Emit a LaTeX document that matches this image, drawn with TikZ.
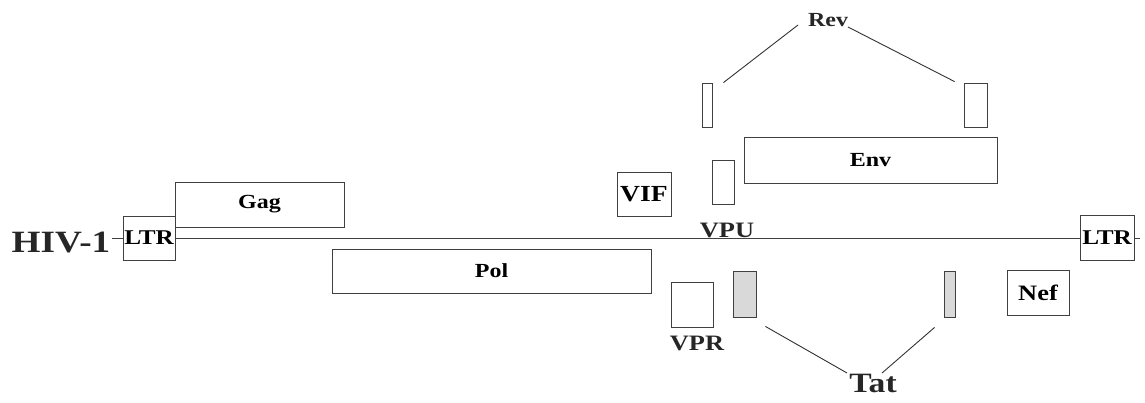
\documentclass[tikz,border=0pt]{standalone}
\usepackage{fontspec}
\setmainfont{Liberation Serif}[FakeStretch=1.2]
\usepackage{tikz}
\usetikzlibrary{calc}
\newcommand{\lblsize}[1]{\fontsize{#1}{#1}\selectfont\bfseries}

\begin{document}
\begin{tikzpicture}[x=1pt,y=-1pt,
    gene/.style={draw=black!75,line width=0.8pt,fill=white,inner sep=0pt,font=\lblsize{20}},
    exon/.style={gene,fill=black!15},
    genelbl/.style={inner sep=0pt,text=black!85,font=\lblsize{22}}]
  \useasboundingbox (0,0) rectangle (1145,402);

  % backbone
  \coordinate (lineW) at (112,238);
  \coordinate (lineE) at (1140,238);
  \draw[black!75,line width=0.8pt] (lineW) -- (lineE);
  \node[genelbl,font=\lblsize{31}] (hiv) at (61,242) {HIV-1};

  % genes above and on the line
  \node[gene,minimum width=52pt,minimum height=44pt,font=\lblsize{21}] (ltrL) at (149,238) {LTR};
  \node[gene,minimum width=54pt,minimum height=45pt,font=\lblsize{21}] (ltrR) at (1107,237.5) {LTR};
  \node[gene,minimum width=169pt,minimum height=45pt] (gag) at (259.5,204.5) {Gag};
  \node[gene,minimum width=54pt,minimum height=44pt,font=\lblsize{23}] (vif) at (644,194) {VIF};
  \node[gene,minimum width=22pt,minimum height=44pt] (vpu) at (723,182) {};
  \node[genelbl] (vpulbl) at (727,230) {VPU};
  \node[gene,minimum width=253pt,minimum height=46pt] (env) at (870.5,160) {Env};

  % rev exons
  \node[gene,minimum width=10pt,minimum height=44pt] (revL) at (707,105) {};
  \node[gene,minimum width=23pt,minimum height=44pt] (revR) at (975.5,105) {};
  \node[genelbl,font=\lblsize{20}] (rev) at (828,20) {Rev};
  \draw[black!80,line width=0.9pt] ($(rev)+(-30,5)$) -- ($(revL.north east)+(11,0)$);
  \draw[black!80,line width=0.9pt] ($(rev)+(20,7)$) -- ($(revR.north west)+(-9,-1)$);

  % genes below the line
  \node[gene,minimum width=319pt,minimum height=44pt] (pol) at (491.5,271) {Pol};
  \node[gene,minimum width=42pt,minimum height=45pt] (vpr) at (692,304.5) {};
  \node[genelbl] (vprlbl) at (697,343) {VPR};
  \node[gene,minimum width=62pt,minimum height=45pt,font=\lblsize{22}] (nef) at (1038,292.5) {Nef};

  % tat exons
  \node[exon,minimum width=23pt,minimum height=46pt] (tatL) at (744.5,294) {};
  \node[exon,minimum width=11pt,minimum height=46pt] (tatR) at (949.5,294) {};
  \node[genelbl,font=\lblsize{28}] (tat) at (873,383) {Tat};
  \draw[black!80,line width=0.9pt] ($(tatL.south east)+(9,9)$) -- ($(tat)+(-26,-10)$);
  \draw[black!80,line width=0.9pt] ($(tatR.south west)+(-9,10)$) -- ($(tat)+(9,-10)$);
\end{tikzpicture}
\end{document}
